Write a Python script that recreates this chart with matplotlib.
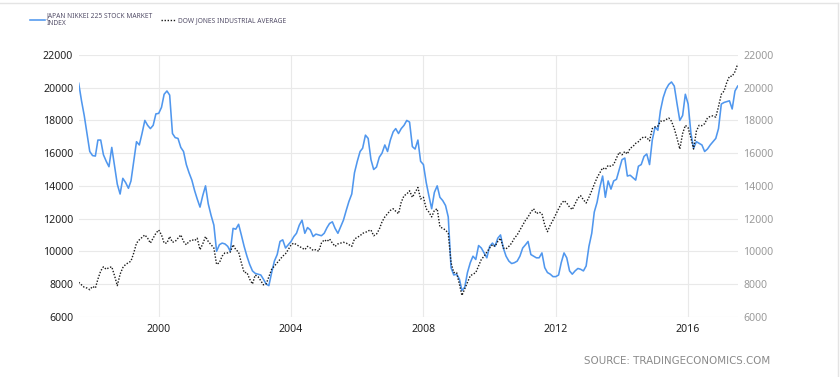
import matplotlib
matplotlib.use("Agg")
import matplotlib.pyplot as plt
import pandas as pd
from matplotlib.lines import Line2D

start_month = "1997-08-01"
n_months = 240

nikkei = [
    20270, 19200, 18300, 17200, 16100, 15850, 15820, 16800, 16800, 15900,
    15500, 15170, 16350, 15200, 14100, 13500, 14460, 14200, 13850, 14300,
    15500, 16700, 16500, 17200, 18000, 17700, 17500, 17700, 18400, 18430,
    18800, 19600, 19800, 19550, 17200, 16950, 16900, 16350, 16100, 15300,
    14800, 14350, 13700, 13200, 12700, 13400, 14000, 12900, 12200, 11600,
    10000, 10400, 10500, 10450, 10300, 10000, 11400, 11350, 11650, 11000,
    10300, 9700, 9200, 8800, 8650, 8600, 8550, 8300, 8000, 7900,
    8700, 9400, 9800, 10600, 10700, 10200, 10400, 10600, 10900, 11100,
    11600, 11900, 11100, 11450, 11300, 10900, 11050, 11000, 10950, 11100,
    11450, 11700, 11800, 11400, 11100, 11500, 11900, 12500, 13050, 13500,
    14800, 15500, 16100, 16300, 17100, 16900, 15600, 15000, 15150, 15750,
    16000, 16500, 16100, 16800, 17300, 17500, 17200, 17500, 17700, 18000,
    17900, 16400, 16250, 16800, 15500, 15300, 14200, 13400, 12600, 13600,
    14000, 13300, 13100, 12800, 12100, 9000, 8550, 8600, 8300, 7600,
    7800, 8700, 9300, 9700, 9500, 10350, 10200, 9900, 9600, 10300,
    10500, 10300, 10800, 11000, 10200, 9700, 9400, 9250, 9300, 9400,
    9700, 10200, 10400, 10600, 9800, 9700, 9600, 9600, 9900, 9000,
    8700, 8600, 8450, 8450, 8550, 9300, 9900, 9600, 8800, 8600,
    8800, 8950, 8900, 8800, 9100, 10300, 11100, 12400, 13000, 13900,
    14600, 13300, 14300, 13800, 14300, 14400, 15000, 15600, 15700, 14600,
    14650, 14500, 14350, 15200, 15300, 15800, 15950, 15300, 16800, 17600,
    17400, 18600, 19400, 19900, 20200, 20350, 20100, 19000, 18000, 18300,
    19600, 19000, 17200, 16300, 16700, 16600, 16500, 16100, 16250, 16500,
    16700, 16900, 17500, 19000, 19100, 19150, 19200, 18700, 19800, 20100,
]

dow = [
    8100, 7950, 7800, 7750, 7650, 7850, 7750, 8300, 8800, 9050,
    8900, 9000, 9050, 8500, 7900, 8600, 9000, 9200, 9300, 9400,
    9900, 10500, 10700, 10850, 11000, 10800, 10500, 10800, 11100, 11300,
    11000, 10500, 10500, 10900, 10550, 10600, 10800, 11000, 10600, 10400,
    10600, 10700, 10650, 10800, 10100, 10450, 10900, 10600, 10400, 10200,
    9200, 9300, 9700, 9900, 9900, 9950, 10400, 10100, 9950, 9300,
    8700, 8700, 8300, 8000, 8550, 8450, 8200, 7950, 8000, 8450,
    8900, 9100, 9300, 9500, 9700, 9850, 10100, 10400, 10500, 10400,
    10300, 10200, 10100, 10300, 10200, 10050, 10100, 10000, 10500, 10700,
    10600, 10750, 10500, 10300, 10450, 10500, 10550, 10500, 10400, 10300,
    10750, 10850, 10950, 11100, 11150, 11250, 11300, 10950, 11050, 11350,
    11800, 12100, 12300, 12500, 12600, 12450, 12300, 13000, 13400, 13500,
    13700, 13300, 13600, 13900, 13200, 13300, 12600, 12400, 12100, 12500,
    12600, 11500, 11400, 11300, 11100, 9300, 8700, 8700, 8000, 7300,
    7700, 8100, 8500, 8600, 8700, 9100, 9500, 9700, 9950, 10200,
    10400, 10300, 10600, 10800, 10200, 10150, 10300, 10500, 10800, 11000,
    11300, 11600, 11900, 12100, 12400, 12600, 12300, 12400, 12300, 11600,
    11200, 11600, 11900, 12250, 12600, 12900, 13100, 12950, 12700, 12550,
    12900, 13250, 13400, 13150, 12950, 13300, 13700, 14100, 14500, 14800,
    15100, 15000, 15250, 15200, 15300, 15700, 16050, 15900, 16100, 15950,
    16300, 16400, 16600, 16700, 16900, 17000, 16950, 16750, 17500, 17600,
    17650, 17950, 17950, 18050, 18150, 17950, 17500, 16900, 16250, 17200,
    17700, 17550, 16900, 16250, 17350, 17700, 17680, 17800, 18150, 18250,
    18280, 18200, 18850, 19600, 19800, 20300, 20700, 20700, 20980, 21450,
]

y_ticks = [6000, 8000, 10000, 12000, 14000, 16000, 18000, 20000, 22000]
x_tick_years = [2000, 2004, 2008, 2012, 2016]
label_nikkei = "JAPAN NIKKEI 225 STOCK MARKET\nINDEX"
label_dow = "DOW JONES INDUSTRIAL AVERAGE"
source_text = "SOURCE: TRADINGECONOMICS.COM"

dates = pd.date_range(start_month, periods=n_months, freq="MS")

W, H = 840, 377
fig = plt.figure(figsize=(W / 100, H / 100), dpi=100)
fig.patch.set_facecolor("white")

left_px, right_px = 78.7, 737.7
top_px, bottom_px = 55.0, 316.7
ax = fig.add_axes([left_px / W, 1 - bottom_px / H,
                   (right_px - left_px) / W, (bottom_px - top_px) / H])
ax2 = ax.twinx()

blue = "#5097ee"
ln1, = ax.plot(dates, nikkei, color=blue, lw=1.15, zorder=3)
ln2, = ax2.plot(dates, dow, color="#1a1a1a", lw=1.0,
                linestyle=(0, (1, 1.2)), zorder=3)

for a in (ax, ax2):
    a.set_ylim(6000, 22000)
    a.set_yticks(y_ticks)
    a.set_xlim(dates[0], dates[-1])
    for s in a.spines.values():
        s.set_visible(False)
    a.tick_params(length=0)

ax.set_xticks([pd.Timestamp(f"{y}-01-01") for y in x_tick_years])
ax.set_xticklabels([str(y) for y in x_tick_years])
ax.grid(True, color="#e9e9e9", lw=0.8, zorder=0)
ax.set_axisbelow(True)

for lab in ax.get_yticklabels():
    lab.set_fontfamily("Noto Sans"); lab.set_fontsize(7.6); lab.set_color("#222222")
for lab in ax.get_xticklabels():
    lab.set_fontfamily("Noto Sans"); lab.set_fontsize(7.6); lab.set_color("#222222")
for lab in ax2.get_yticklabels():
    lab.set_fontfamily("Noto Sans"); lab.set_fontsize(7.6); lab.set_color("#9a9a9a")
ax.tick_params(axis="y", pad=4)
ax2.tick_params(axis="y", pad=4)
ax.tick_params(axis="x", pad=5)

# legend
fig.legend([ln1, ln2], [label_nikkei, label_dow], ncol=2, loc="upper left",
           bbox_to_anchor=(30 / W, 1 - 12 / H), frameon=False,
           prop=dict(family="Noto Sans", size=4.8), handlelength=2.2,
           handletextpad=0.3, columnspacing=1.2, labelcolor="#55506a",
           borderaxespad=0, borderpad=0)

fig.text(770 / W, 1 - 361 / H, source_text, ha="right", va="center",
         color="#8a8a8a", fontsize=7.4, family="DejaVu Sans")

# faint frame lines at top and right
fig.add_artist(Line2D([0, 838 / W], [1 - 2.5 / H, 1 - 2.5 / H],
                      transform=fig.transFigure, color="#e4e4e4", lw=1))
fig.add_artist(Line2D([838 / W, 838 / W], [0, 1 - 2.5 / H],
                      transform=fig.transFigure, color="#e4e4e4", lw=1))

fig.savefig("out.png", dpi=100, facecolor="white")
